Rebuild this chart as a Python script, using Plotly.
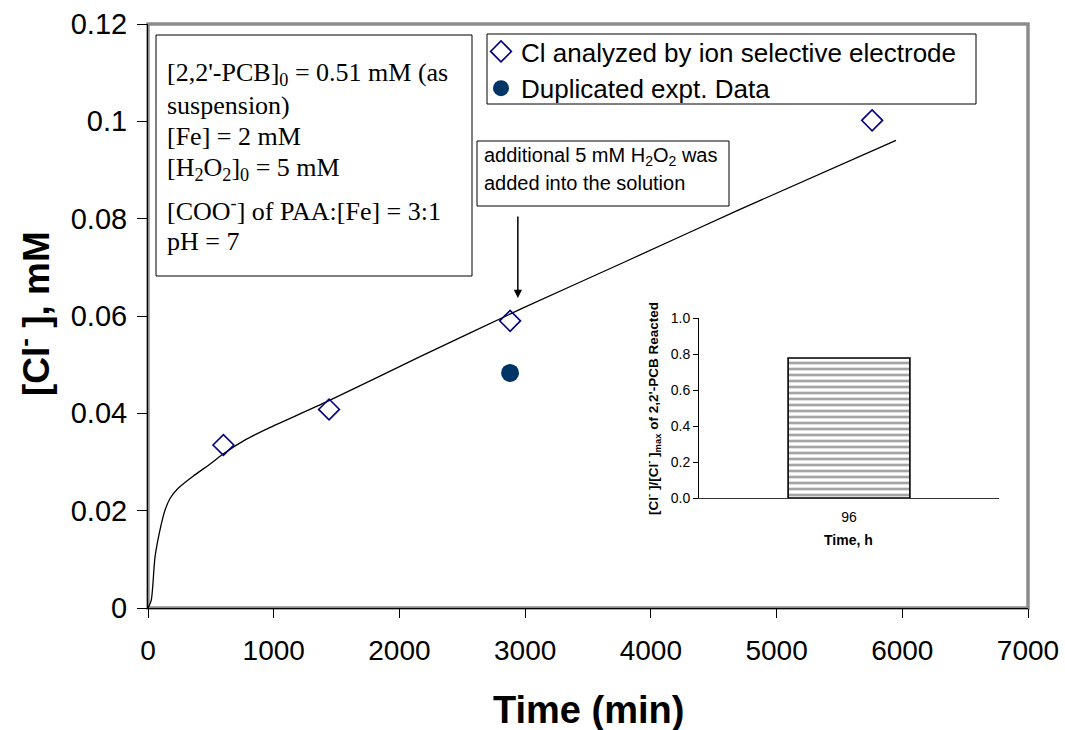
import plotly.graph_objects as go

# Chloride measured by ion selective electrode
time_ise = [600, 1440, 2880, 5760]
cl_ise = [0.0335, 0.0408, 0.0590, 0.1002]

# Duplicated experiment
time_dup = [2880]
cl_dup = [0.0483]

# Fitted chloride release curve
fit_time = [0, 25, 56, 95, 135, 175, 240, 370, 500, 600, 770, 930,
            1440, 2160, 2980, 3800, 4700, 5950]
fit_cl = [0, 0.0015, 0.0105, 0.0160, 0.0201, 0.0225, 0.0246, 0.0273,
          0.0297, 0.0317, 0.0345, 0.0366, 0.0426, 0.0516, 0.0616,
          0.0712, 0.0818, 0.0961]

# Inset: fraction of 2,2'-PCB reacted
inset_time = ["96"]
inset_frac = [0.778]

x_ticks = [0, 1000, 2000, 3000, 4000, 5000, 6000, 7000]
y_ticks = [0, 0.02, 0.04, 0.06, 0.08, 0.1, 0.12]

W, H = 1065, 730
ML, MR, MT, MB = 148, 37, 24, 122
PW, PH = W - ML - MR, H - MT - MB


def px(x):
    return (x - ML) / PW


def py(y):
    return (H - MB - y) / PH


NAVY = "#000080"
DARK = "#003366"
SANS = "Arial, Liberation Sans, sans-serif"
SERIF = "Times New Roman, Liberation Serif, serif"

fig = go.Figure()

fig.add_trace(go.Scatter(
    x=fit_time, y=fit_cl, mode="lines",
    line=dict(color="black", width=1.3, shape="spline", smoothing=0.8),
    showlegend=False, hoverinfo="skip"))

fig.add_trace(go.Scatter(
    x=time_ise, y=cl_ise, mode="markers",
    name="Cl analyzed by ion selective electrode",
    marker=dict(symbol="diamond-open", size=16, color=NAVY,
                line=dict(color=NAVY, width=1.6))))

fig.add_trace(go.Scatter(
    x=time_dup, y=cl_dup, mode="markers",
    name="Duplicated expt. Data",
    marker=dict(symbol="circle", size=18, color=DARK,
                line=dict(color=DARK, width=0))))

fig.add_trace(go.Bar(
    x=inset_time, y=inset_frac, xaxis="x2", yaxis="y2", width=0.406,
    marker=dict(color="white", line=dict(color="black", width=1.6),
                pattern=dict(shape="-", size=6, solidity=0.45,
                             fgcolor="#4a4a4a", bgcolor="white")),
    showlegend=False, hoverinfo="skip"))

# Plot area frame
fig.add_shape(type="rect", xref="paper", yref="paper", x0=0, x1=1, y0=0, y1=1,
              line=dict(color="#8c8c8c", width=3.5), layer="below")

# Legend frame
fig.add_shape(type="rect", xref="paper", yref="paper",
              x0=px(487), x1=px(976), y0=py(104), y1=py(34),
              line=dict(color="black", width=1), fillcolor="white",
              layer="below")

# Conditions box
fig.add_shape(type="rect", xref="paper", yref="paper",
              x0=px(156), x1=px(472), y0=py(276), y1=py(35),
              line=dict(color="black", width=1), fillcolor="white")
cond_lines = [
    ("[2,2'-PCB]<sub>0</sub> = 0.51 mM (as", 74),
    ("suspension)", 105),
    ("[Fe] = 2 mM", 136),
    ("[H<sub>2</sub>O<sub>2</sub>]<sub>0</sub> = 5 mM", 169),
    ("[COO<sup>-</sup>] of PAA:[Fe] = 3:1", 209),
    ("pH = 7", 241),
]
for txt, yy in cond_lines:
    fig.add_annotation(xref="paper", yref="paper", x=px(165), y=py(yy),
                       text=txt, showarrow=False, xanchor="left",
                       yanchor="middle",
                       font=dict(family=SERIF, size=26, color="black"))

# H2O2 addition note
fig.add_shape(type="rect", xref="paper", yref="paper",
              x0=px(477), x1=px(729), y0=py(206), y1=py(141),
              line=dict(color="black", width=1), fillcolor="white")
for txt, yy in [("additional 5 mM H<sub>2</sub>O<sub>2</sub> was", 157),
                ("added into the solution", 183)]:
    fig.add_annotation(xref="paper", yref="paper", x=px(482), y=py(yy),
                       text=txt, showarrow=False, xanchor="left",
                       yanchor="middle",
                       font=dict(family=SANS, size=20, color="black"))
fig.add_annotation(x=2942, y=0.0637, ax=0, ay=-83, axref="pixel",
                   ayref="pixel", text="", showarrow=True, arrowhead=2,
                   arrowsize=1.1, arrowwidth=1.5, arrowcolor="black")

# Axis titles
fig.add_annotation(xref="paper", yref="paper", x=px(33), y=py(314),
                   text="<b>[Cl<sup>-</sup> ], mM</b>", textangle=-90,
                   showarrow=False, xanchor="center", yanchor="middle",
                   font=dict(family=SANS, size=37, color="black"))
fig.add_annotation(xref="paper", yref="paper", x=px(588), y=py(710),
                   text="<b>Time (min)</b>", showarrow=False,
                   xanchor="center", yanchor="middle",
                   font=dict(family=SANS, size=38, color="black"))

# Inset titles
fig.add_annotation(xref="paper", yref="paper", x=px(653), y=py(409),
                   text="<b>[Cl<sup>-</sup> ]/[Cl<sup>-</sup> ]<sub>max</sub> of 2,2'-PCB Reacted</b>",
                   textangle=-90, showarrow=False, xanchor="center",
                   yanchor="middle",
                   font=dict(family=SANS, size=13.5, color="black"))
fig.add_annotation(xref="paper", yref="paper", x=px(848), y=py(540),
                   text="<b>Time, h</b>", showarrow=False, xanchor="center",
                   yanchor="middle",
                   font=dict(family=SANS, size=14, color="black"))

fig.update_layout(
    width=W, height=H,
    margin=dict(l=ML, r=MR, t=MT, b=MB, autoexpand=False),
    paper_bgcolor="white", plot_bgcolor="white",
    showlegend=True,
    legend=dict(x=px(481), y=py(28), xanchor="left", yanchor="top",
                bgcolor="rgba(0,0,0,0)", borderwidth=0,
                font=dict(family=SANS, size=26, color="black"),
                itemwidth=30, tracegroupgap=0),
    xaxis=dict(range=[0, 7000], tickvals=x_ticks, showgrid=False,
               zeroline=False, showline=True, linecolor="black",
               linewidth=1, ticks="outside", ticklen=9, automargin=False,
               tickcolor="black", ticklabelstandoff=8,
               tickfont=dict(family=SANS, size=28, color="black")),
    yaxis=dict(range=[0, 0.12], tickvals=y_ticks, showgrid=False,
               zeroline=False, showline=True, linecolor="black",
               linewidth=1, ticks="outside", ticklen=10, automargin=False,
               tickcolor="black", ticklabelstandoff=4,
               tickfont=dict(family=SANS, size=29, color="black")),
    xaxis2=dict(domain=[px(699), px(999)], anchor="y2", type="category",
                range=[-0.5, 0.5], showgrid=False, zeroline=False,
                showline=True, linecolor="#333333", linewidth=1,
                ticks="", ticklabelstandoff=6, automargin=False,
                tickfont=dict(family=SANS, size=14, color="black")),
    yaxis2=dict(domain=[py(498), py(318)], anchor="x2", range=[0, 1],
                tickvals=[0, 0.2, 0.4, 0.6, 0.8, 1.0], tickformat=".1f",
                showgrid=False, zeroline=False, showline=True,
                linecolor="black", linewidth=1, ticks="outside",
                ticklen=5, tickcolor="black", automargin=False,
                tickfont=dict(family=SANS, size=14, color="black")),
)

fig.write_html("out.html")
